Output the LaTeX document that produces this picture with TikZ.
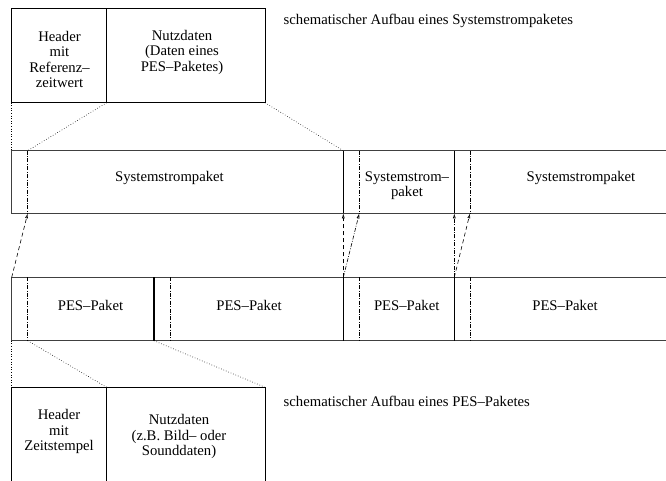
\documentclass[tikz,border=0pt]{standalone}
\usepackage{fontspec}
\setmainfont{Liberation Serif}
\usetikzlibrary{arrows.meta}
\begin{document}
\begin{tikzpicture}[x=1pt,y=-1pt,
  box/.style={line width=0.8pt},
  sep/.style={line width=1.5pt},
  hdr/.style={line width=0.6pt,dash pattern=on 4pt off 1.5pt on 0.8pt off 1.5pt},
  zoomline/.style={dotted,line width=0.6pt},
  lbl/.style={inner sep=0pt,align=center,font=\fontsize{14.7}{15.5}\selectfont},
  captext/.style={inner sep=0pt,anchor=west,font=\fontsize{14.7}{15.5}\selectfont},
  arr/.style={line width=0.6pt,-{Latex[open,length=5pt,width=3pt]}},
  dsh/.style={dash pattern=on 4pt off 3pt},
  dshd/.style={dash pattern=on 4pt off 1.5pt on 0.8pt off 1.5pt}]
\useasboundingbox (0,0) rectangle (666,481);
% coordinates
\coordinate (tL) at (11.7,8.3);
\coordinate (tD) at (106.7,8.3);
\coordinate (tR) at (265,8.3);
\coordinate (tLb) at (11.7,102.7);
\coordinate (tDb) at (106.7,102.7);
\coordinate (tRb) at (265,102.7);
% top box
\draw[box] (tL) rectangle (tRb);
\draw[box] (tD) -- (tDb);
\node[lbl] (h1) at (59.5,59.5) {Header\\mit\\Referenz–\\zeitwert};
\node[lbl] (n1) at (182,52) {Nutzdaten\\(Daten eines\\PES–Paketes)};
\node[captext] (c1) at (283.5,21) {schematischer Aufbau eines Systemstrompaketes};
% system stream row
\coordinate (sL) at (11.7,150.7);
\coordinate (sLb) at (11.7,213.3);
\draw[box,draw=black!75] (666,150.7) -- (sL) -- (sLb) -- (666,213.3);
\coordinate (sH1) at (27.7,150.7);   \coordinate (sH1b) at (27.7,213.3);
\coordinate (sS2) at (343.3,150.7);  \coordinate (sS2b) at (343.3,213.3);
\coordinate (sH2) at (359.3,150.7);  \coordinate (sH2b) at (359.3,213.3);
\coordinate (sS3) at (454.3,150.7);  \coordinate (sS3b) at (454.3,213.3);
\coordinate (sH3) at (470,150.7);    \coordinate (sH3b) at (470,213.3);
\draw[hdr] (sH1) -- (sH1b);
\draw[hdr] (sH2) -- (sH2b);
\draw[hdr] (sH3) -- (sH3b);
\draw[sep] (sS2) -- (sS2b);
\draw[sep] (sS3) -- (sS3b);
\node[lbl] (s1) at (169.5,178) {Systemstrompaket};
\node[lbl] (s2) at (407,185.5) {Systemstrom–\\paket};
\node[lbl] (s3) at (581,178) {Systemstrompaket};
% zoom lines top
\draw[zoomline] (tLb) -- (sL);
\draw[zoomline] (tDb) -- (sH1);
\draw[zoomline] (tRb) -- (sS2);
% PES row
\coordinate (pL) at (11.7,277.3);
\coordinate (pLb) at (11.7,340.7);
\draw[box,draw=black!75] (666,277.3) -- (pL) -- (pLb) -- (666,340.7);
\coordinate (pH1) at (27.7,277.3);   \coordinate (pH1b) at (27.7,340.7);
\coordinate (pS2) at (154,277.3);    \coordinate (pS2b) at (154,340.7);
\coordinate (pH2) at (170,277.3);    \coordinate (pH2b) at (170,340.7);
\coordinate (pS3) at (343.3,277.3);  \coordinate (pS3b) at (343.3,340.7);
\coordinate (pH3) at (359.3,277.3);  \coordinate (pH3b) at (359.3,340.7);
\coordinate (pS4) at (454.3,277.3);  \coordinate (pS4b) at (454.3,340.7);
\coordinate (pH4) at (470,277.3);    \coordinate (pH4b) at (470,340.7);
\draw[hdr] (pH1) -- (pH1b);
\draw[hdr] (pH2) -- (pH2b);
\draw[hdr] (pH3) -- (pH3b);
\draw[hdr] (pH4) -- (pH4b);
\draw[sep] (pS2) -- (pS2b);
\draw[sep] (pS3) -- (pS3b);
\draw[sep] (pS4) -- (pS4b);
\node[lbl] (p1) at (90.5,305) {PES–Paket};
\node[lbl] (p2) at (249,305) {PES–Paket};
\node[lbl] (p3) at (406.7,305) {PES–Paket};
\node[lbl] (p4) at (565,305) {PES–Paket};
% arrows between rows
\draw[arr,dsh] (pL) -- (sH1b);
\draw[arr,dsh] (pS3) -- (sS2b);
\draw[arr,dshd] (pS3) -- (sH2b);
\draw[arr,dshd] (pS4) -- (sS3b);
\draw[arr,dsh] (pS4) -- (sH3b);
% bottom box
\coordinate (bL) at (11.7,387.3);
\coordinate (bD) at (106.7,387.3);
\coordinate (bR) at (265,387.3);
\draw[box] (11.7,481) -- (bL) -- (bR) -- (265,481);
\draw[box] (bD) -- (106.7,481);
\node[lbl] (h2) at (59,431.5) {Header\\mit\\Zeitstempel};
\node[lbl] (n2) at (179,436.5) {Nutzdaten\\(z.B. Bild– oder\\Sounddaten)};
\node[captext] (c2) at (283.5,401) {schematischer Aufbau eines PES–Paketes};
% zoom lines bottom
\draw[zoomline] (pLb) -- (bL);
\draw[zoomline] (pH1b) -- (bD);
\draw[zoomline] (pS2b) -- (bR);
\end{tikzpicture}
\end{document}
